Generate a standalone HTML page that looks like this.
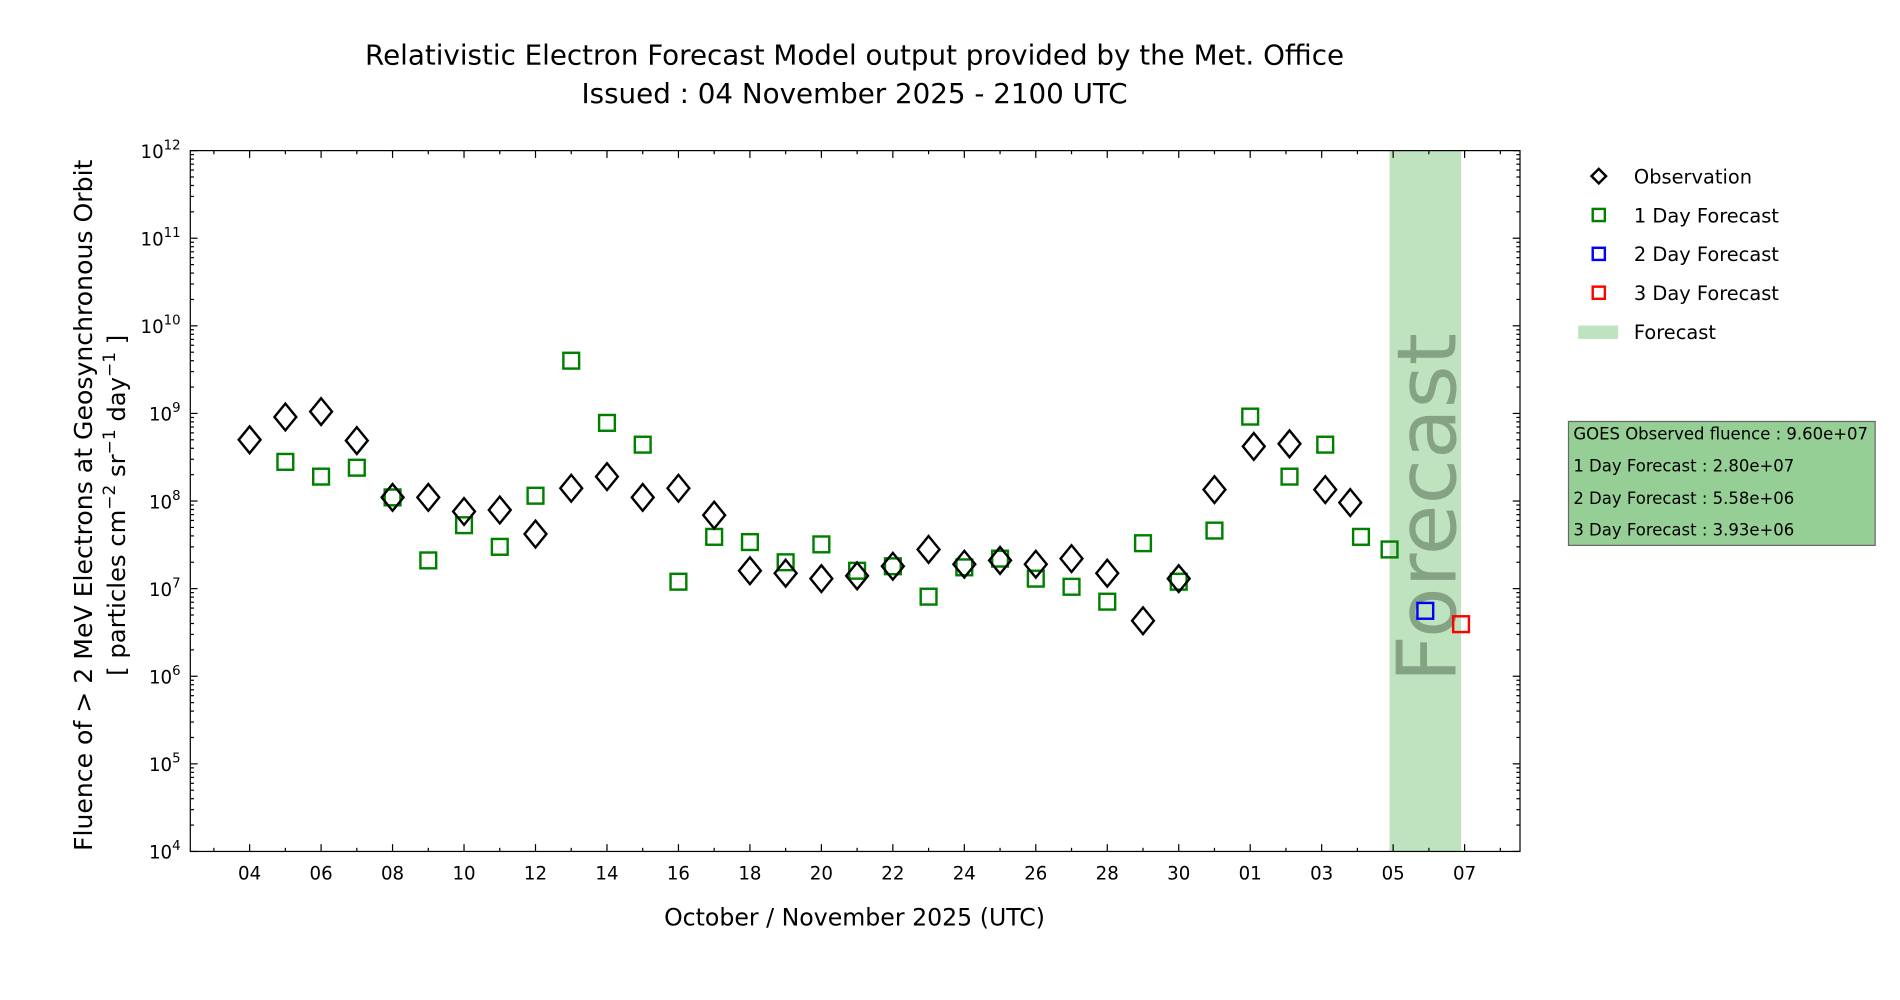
<!DOCTYPE html>
<html><head><meta charset="utf-8"><style>
html,body{margin:0;padding:0;background:#fff;}
svg{display:block;font-family:"DejaVu Sans","Liberation Sans",sans-serif;}
</style></head><body>
<svg id="chart" width="1900" height="1000" viewBox="0 0 1567.5 823.3" preserveAspectRatio="none" xmlns="http://www.w3.org/2000/svg">
<text x="705" y="53" font-size="22.9" text-anchor="middle">Relativistic Electron Forecast Model output provided by the Met. Office</text>
<text x="705" y="85" font-size="22.9" text-anchor="middle">Issued : 04 November 2025 - 2100 UTC</text>
<g id="plot"></g>
<text x="705" y="762" font-size="19.5" text-anchor="middle">October / November 2025 (UTC)</text>
<g>
<text transform="translate(76,416) rotate(-90)" font-size="20.7" text-anchor="middle">Fluence of &gt; 2 MeV Electrons at Geosynchronous Orbit</text>
<text transform="translate(103,416) rotate(-90)" font-size="20" text-anchor="middle">[ particles cm<tspan font-size="14" dy="-8">−2</tspan><tspan dy="8"> sr</tspan><tspan font-size="14" dy="-8">−1</tspan><tspan dy="8"> day</tspan><tspan font-size="14" dy="-8">−1</tspan><tspan dy="8"> ]</tspan></text>
</g>
<g font-size="16">
<g><path d="M1319,139 L1325,145 L1319,151 L1313,145 Z" fill="none" stroke="#000" stroke-width="2"/><text x="1348" y="151">Observation</text></g>
<g><rect x="1314" y="172" width="10" height="10" fill="none" stroke="green" stroke-width="2"/><text x="1348" y="183">1 Day Forecast</text></g>
<g><rect x="1314" y="204" width="10" height="10" fill="none" stroke="blue" stroke-width="2"/><text x="1348" y="215">2 Day Forecast</text></g>
<g><rect x="1314" y="236" width="10" height="10" fill="none" stroke="red" stroke-width="2"/><text x="1348" y="247">3 Day Forecast</text></g>
<g><rect x="1302" y="268" width="33" height="11" fill="#bfe3bf"/><text x="1348" y="279">Forecast</text></g>
</g>
<g font-size="13.6">
<rect x="1294" y="347" width="253" height="102" fill="#95cf95" stroke="#666" stroke-width="1"/>
<text x="1298" y="362">GOES Observed fluence : 9.60e+07</text>
<text x="1298" y="388">1 Day Forecast : 2.80e+07</text>
<text x="1298" y="415">2 Day Forecast : 5.58e+06</text>
<text x="1298" y="441">3 Day Forecast : 3.93e+06</text>
</g>
</svg>
<script>
const obsDays=[0,1,2,3,4,5,6,7,8,9,10,11,12,13,14,15,16,17,18,19,20,21,22,23,24,25,26,27,28.1,29.1,30.1,30.8];
const obsValues=[5e8,9.1e8,1.05e9,4.9e8,1.1e8,1.1e8,7.6e7,7.9e7,4.2e7,1.4e8,1.9e8,1.1e8,1.4e8,6.9e7,1.6e7,1.5e7,1.3e7,1.4e7,1.8e7,2.8e7,1.9e7,2.1e7,1.9e7,2.2e7,1.5e7,4.3e6,1.3e7,1.35e8,4.2e8,4.5e8,1.35e8,9.6e7];
const f1Days=[1,2,3,4,5,6,7,8,9,10,11,12,13,14,15,16,17,18,19,20,21,22,23,24,25,26,27,28,29.1,30.1,31.1,31.9];
const f1Values=[2.8e8,1.9e8,2.4e8,1.1e8,2.1e7,5.3e7,3.0e7,1.15e8,4.0e9,7.8e8,4.4e8,1.2e7,3.9e7,3.4e7,2.0e7,3.2e7,1.6e7,1.8e7,8.1e6,1.75e7,2.2e7,1.3e7,1.05e7,7.1e6,3.3e7,1.2e7,4.6e7,9.2e8,1.9e8,4.4e8,3.9e7,2.8e7];
const f2Days=[32.9];
const f2Values=[5.58e6];
const f3Days=[33.9];
const f3Values=[3.93e6];
const xTickDays=[0,2,4,6,8,10,12,14,16,18,20,22,24,26,28,30,32,34];
const xTickLabels=["04","06","08","10","12","14","16","18","20","22","24","26","28","30","01","03","05","07"];
const yTickExps=[4,5,6,7,8,9,10,11,12];
const forecastBand=[31.9,33.9];

const L=157,R=1254,T=124,B=701;
const xMin=-1.66,xMax=35.55,yMinE=4,yMaxE=12;
const NS="http://www.w3.org/2000/svg";
const xs=d=>L+(d-xMin)/(xMax-xMin)*(R-L);
const ys=v=>B-(Math.log10(v)-yMinE)/(yMaxE-yMinE)*(B-T);
const plot=document.getElementById('plot');
function mk(tag,attrs,parent){const e=document.createElementNS(NS,tag);for(const k in attrs)e.setAttribute(k,attrs[k]);(parent||plot).appendChild(e);return e;}

const band=mk('rect',{x:xs(forecastBand[0]),y:T,width:xs(forecastBand[1])-xs(forecastBand[0]),height:B-T,fill:'#bfe3bf'});


const bt=mk('text',{transform:`translate(${(xs(forecastBand[0])+xs(forecastBand[1]))/2+25},418) rotate(-90)`,'font-size':'68','text-anchor':'middle',fill:'#7a967a','fill-opacity':'0.85'});
bt.textContent='Forecast';



const frame=mk('rect',{x:L,y:T,width:R-L,height:B-T,fill:'none',stroke:'#000','stroke-width':1});



for(let d=Math.ceil(xMin);d<=xMax;d++){
  const major=xTickDays.indexOf(d)>=0;const len=major?6:3;
  mk('line',{x1:xs(d),x2:xs(d),y1:B,y2:B-len,stroke:'#000'});
  mk('line',{x1:xs(d),x2:xs(d),y1:T,y2:T+len,stroke:'#000'});
}
xTickDays.forEach((d,i)=>{
  const t=mk('text',{x:xs(d),y:B+23,'font-size':'15','text-anchor':'middle'});
  t.textContent=xTickLabels[i];
  
  
});
yTickExps.forEach(e=>{
  const y=ys(Math.pow(10,e));
  mk('line',{x1:L,x2:L+6,y1:y,y2:y,stroke:'#000'});
  mk('line',{x1:R,x2:R-6,y1:y,y2:y,stroke:'#000'});
  if(e<yMaxE){for(let m=2;m<10;m++){const ym=ys(m*Math.pow(10,e));mk('line',{x1:L,x2:L+3,y1:ym,y2:ym,stroke:'#000'});mk('line',{x1:R,x2:R-3,y1:ym,y2:ym,stroke:'#000'});}}
  const t=mk('text',{x:L-8,y:y+6,'font-size':'15','text-anchor':'end'});
  
  
  const a=document.createElementNS(NS,'tspan');a.textContent='10';t.appendChild(a);
  const b=document.createElementNS(NS,'tspan');b.setAttribute('font-size','11');b.setAttribute('dy','-7');b.textContent=String(e);t.appendChild(b);
});
function squares(days,vals,color,name){
  days.forEach((d,i)=>{const x=xs(d),y=ys(vals[i]);
    const r=mk('rect',{x:x-6.5,y:y-6.5,width:13,height:13,fill:'none',stroke:color,'stroke-width':2});
    
    });
}
squares(f1Days,f1Values,'green','forecast-1-day-point');
squares(f2Days,f2Values,'blue','forecast-2-day-point');
squares(f3Days,f3Values,'red','forecast-3-day-point');
obsDays.forEach((d,i)=>{const x=xs(d),y=ys(obsValues[i]);
  const p=mk('path',{d:`M${x},${y-11} L${x+9},${y} L${x},${y+11} L${x-9},${y} Z`,fill:'none',stroke:'#000','stroke-width':2});
  
  });
</script>
</body></html>
